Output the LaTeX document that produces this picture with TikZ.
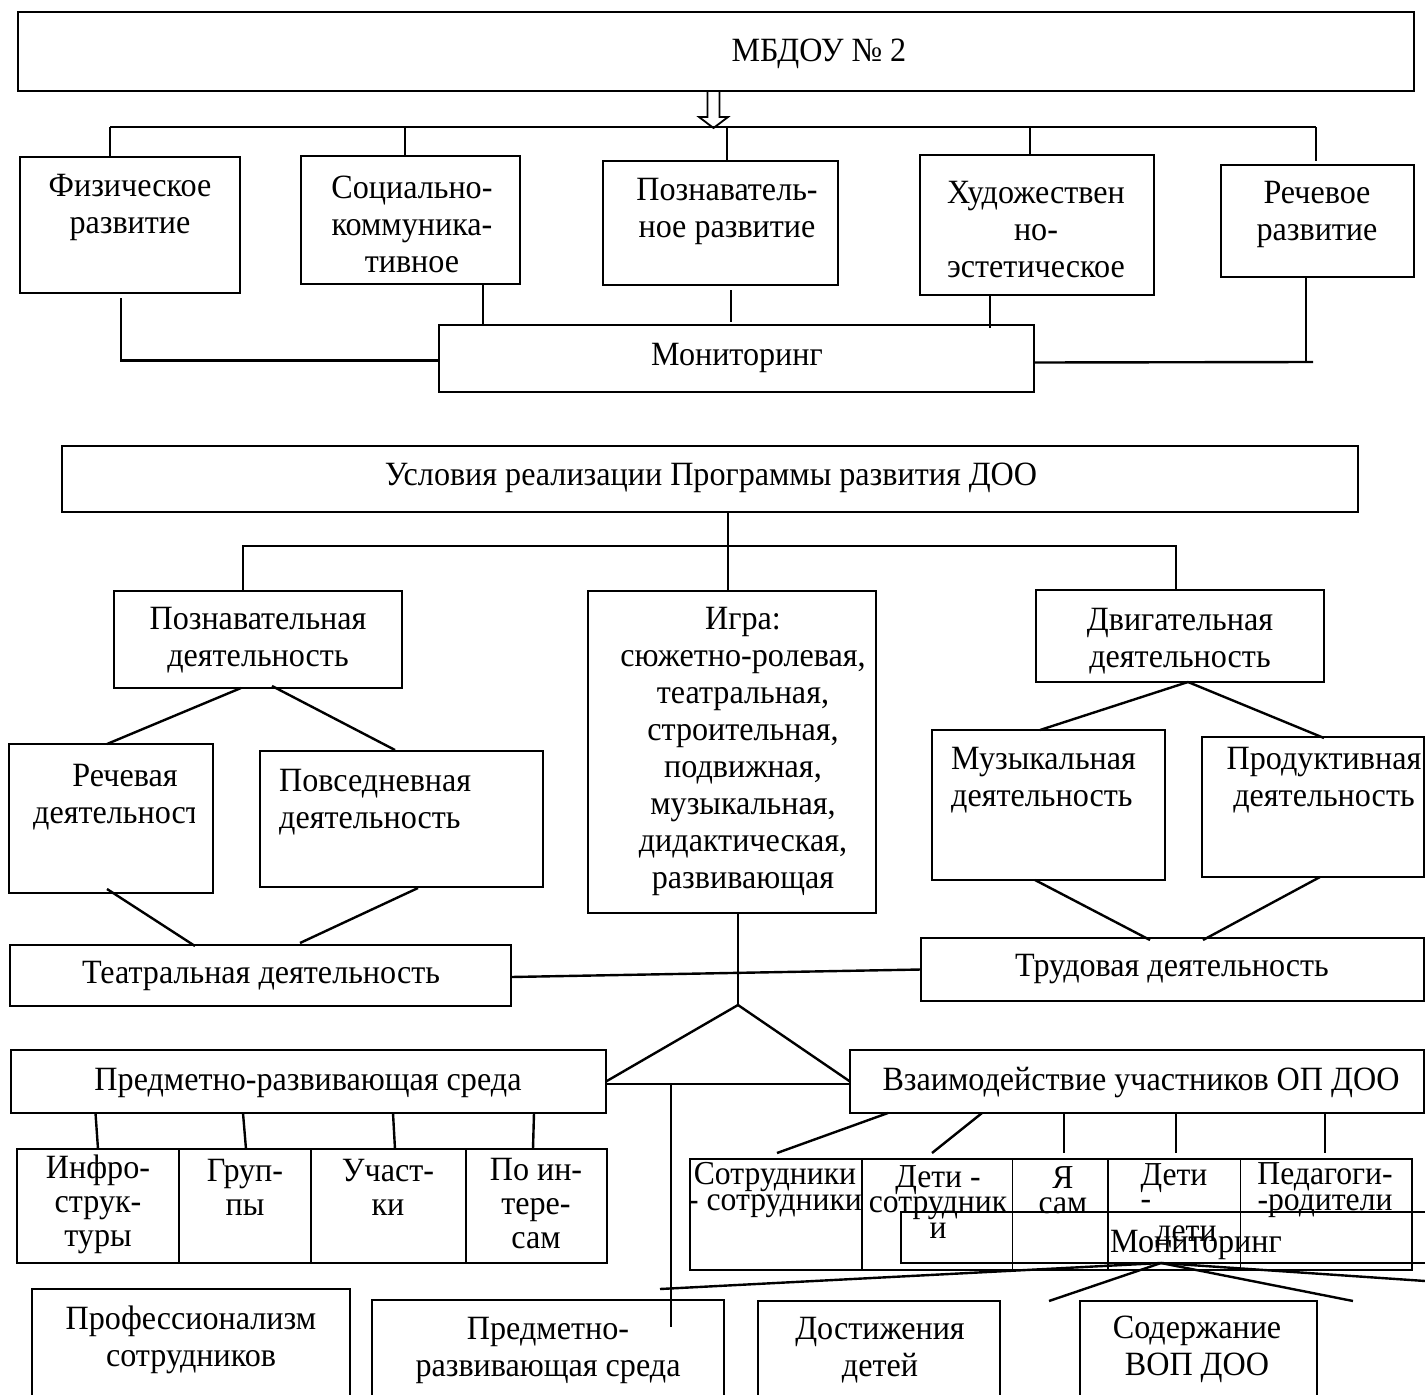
\documentclass[tikz,border=0pt]{standalone}
\usepackage{fontspec}
\setmainfont{Liberation Serif}[FakeStretch=0.945]
\usetikzlibrary{calc}
\newcommand\mybox[6][bx]{\node[#1, minimum width={#5-#3}, minimum height={#6-#4}] (#2) at ({(#3+#5)/2},{(#4+#6)/2}) {};}
\begin{document}
\begin{tikzpicture}[x=1pt,y=-1pt,
  bx/.style={draw, line width=2.4pt, inner sep=0pt, outer sep=0pt},
  tb/.style={draw, line width=1.1pt, inner sep=0pt, outer sep=0pt},
  ln/.style={line width=2.4pt},
  thinln/.style={line width=1.1pt},
  tx/.style={font=\fontsize{34}{37}\selectfont, inner sep=0pt, align=center},
  tsm/.style={font=\fontsize{34}{34}\selectfont, inner sep=0pt, align=center},
  tt/.style={font=\fontsize{33.5}{25.5}\selectfont, inner sep=0pt, align=center}]
\clip (0,0) rectangle (1425,1395);
\fill[white] (0,0) rectangle (1425,1395);
% ---------- top part ----------
\mybox{mbdou}{18}{12}{1414}{91}
\node[tx] (t-mbdou) at (819,54) {МБДОУ № 2};
\draw[line width=1.8pt, line join=miter] (707.5,91) -- (707.5,117) -- (699,117) -- (713.5,128) -- (728,117) -- (719.5,117) -- (719.5,91);
\coordinate (b1l) at (110,127);
\coordinate (b1r) at (1316,127);
\coordinate (b1s) at (405,127);
\coordinate (b1p) at (727,127);
\coordinate (b1h) at (1030,127);
\draw[ln] (b1l) -- (b1r);
\mybox{fiz}{20}{157}{240}{293}
\mybox{soc}{301}{156}{520}{284}
\mybox{pozn}{603}{161}{838}{285}
\mybox{hud}{920}{155}{1154}{295}
\mybox{rech}{1221}{165}{1414}{277}
\mybox{mon}{439}{325}{1034}{392}
\draw[ln] (b1l) -- (fiz.north -| b1l);
\draw[ln] (b1s) -- (soc.north -| b1s);
\draw[ln] (b1p) -- (pozn.north -| b1p);
\draw[ln] (b1h) -- (hud.north -| b1h);
\draw[ln] (b1r) -- ($(rech.north -| b1r)+(0,-4)$);
\node[tx] (t-fiz) at (130,207.5) {Физическое\\развитие};
\node[tx] (t-soc) at (412,224) {Социально-\\коммуника-\\тивное};
\node[tx] (t-pozn) at (727,211.5) {Познаватель-\\ное развитие};
\node[tx] (t-hud) at (1036,229.5) {Художествен\\но-\\эстетическое};
\node[tx] (t-rech) at (1317,214.5) {Речевое\\развитие};
\node[tx] (t-mon) at (737,358) {Мониторинг};
\coordinate (x120) at (121,0);
\coordinate (x483) at (483,0);
\coordinate (x731) at (731,0);
\coordinate (x990) at (990,0);
\coordinate (x1306) at (1306,0);
\coordinate (rc) at (1313,362);
\draw[ln] ($(fiz.south -| x120)+(0,5)$) |- ([yshift=-2pt]mon.west);
\draw[ln] (soc.south -| x483) -- (mon.north -| x483);
\draw[ln] ($(pozn.south -| x731)+(0,5)$) -- ($(mon.north -| x731)+(0,-3)$);
\draw[ln] (hud.south -| x990) -- ($(mon.north -| x990)+(0,3)$);
\draw[ln] (rech.south -| x1306) -- (rc -| x1306);
\draw[ln] ([yshift=-4pt]mon.east) -- (rc);
% ---------- second part ----------
\mybox{cond}{62}{446}{1358}{512}
\node[tx] (t-cond) at (711,478) {Условия реализации Программы развития ДОО};
\mybox{pd}{114}{591}{402}{688}
\mybox{igra}{588}{591}{876}{913}
\mybox{dv}{1036}{590}{1324}{682}
\node[tx] (t-pd) at (258,640) {Познавательная\\деятельность};
\node[tx] (t-igra) at (743,751) {Игра:\\сюжетно-ролевая,\\театральная,\\строительная,\\подвижная,\\музыкальная,\\дидактическая,\\развивающая};
\node[tx] (t-dv) at (1180,641) {Двигательная\\деятельность};
\coordinate (x728) at (728,0);
\coordinate (x243) at (243,0);
\coordinate (x1176) at (1176,0);
\draw[ln] (cond.south -| x728) -- (igra.north -| x728);
\draw[ln] (pd.north -| x243) -- ++(0,-45) -| (dv.north -| x1176);
\mybox{rd}{9}{744}{213}{893}
\mybox{pv}{260}{751}{543}{887}
\node[tx] (t-rd1) at (125,776) {Речевая};
\begin{scope}
\clip (9,744) rectangle (194,893);
\node[tx, anchor=west] (t-rd2) at (33,819) {деятельност};
\end{scope}
\node[tx, anchor=west, align=left] (t-pv) at (279,802.5) {Повседневная\\деятельность};
\draw[ln] ($(pd.south)+(-17,0)$) -- ($(rd.north)+(-4,0)$);
\draw[ln] ($(pd.south)+(14,-2)$) -- ($(pv.north)+(-6.5,-1)$);
\mybox{teatr}{10}{945}{511}{1006}
\node[tx] (t-teatr) at (261,976) {Театральная деятельность};
\draw[ln] ($(rd.south)+(-4,-4)$) -- ($(teatr.north)+(-65.5,1)$);
\draw[ln] ($(pv.south)+(16.5,1)$) -- ($(teatr.north)+(39.5,-2)$);
\mybox{mu}{932}{730}{1165}{880}
\mybox{pr}{1202}{737}{1424}{877}
\node[tx, anchor=west, align=left] (t-mu) at (951,780) {Музыкальная\\деятельность};
\node[tx] (t-pr) at (1324,780) {Продуктивная\\деятельность};
\draw[ln] ($(dv.south)+(8,0)$) -- ($(mu.north)+(-8.5,0)$);
\draw[ln] ($(dv.south)+(8,0)$) -- ($(pr.north)+(11,1)$);
\mybox{trud}{921}{938}{1424}{1001}
\node[tx] (t-trud) at (1172,969) {Трудовая деятельность};
\draw[ln] ($(mu.south)+(-13.5,0)$) -- ($(trud.north)+(-22.5,2)$);
\draw[ln] ($(pr.south)+(7,0)$) -- ($(trud.north)+(30.5,2)$);
\draw[ln] ([yshift=-1.5pt]teatr.east) -- (trud.west);
% ---------- triangle ----------
\mybox{psr}{11}{1050}{606}{1113}
\mybox{vz}{850}{1050}{1424}{1113}
\node[tx] (t-psr) at (308,1083) {Предметно-развивающая среда};
\node[tx] (t-vz) at (1141,1083) {Взаимодействие участников ОП ДОО};
\coordinate (apex) at (738,1005);
\draw[ln] (igra.south -| apex) -- (apex);
\draw[ln] (apex) -- (psr.east);
\draw[ln] (apex) -- (vz.west);
\draw[ln] ([yshift=-2.5pt]psr.east) -- ([yshift=-2.5pt]vz.west);
\coordinate (vtop) at (671,1084);
\coordinate (vend) at (671,1327);
\draw[ln] (vtop) -- (vend);
% ---------- table 1 ----------
\mybox[tb]{tab1}{17}{1149}{607}{1263}
\draw[thinln] (179,1149) -- (179,1263) (311,1149) -- (311,1263) (466,1149) -- (466,1263);
\coordinate (c1a) at (98,1149);
\coordinate (c1b) at (246,1149);
\coordinate (c1c) at (395,1149);
\coordinate (c1d) at (533,1149);
\draw[ln] ($(psr.south)+(-213,0)$) -- (c1a);
\draw[ln] ($(psr.south)+(-65.5,0)$) -- (c1b);
\draw[ln] ($(psr.south)+(84.5,0)$) -- (c1c);
\draw[ln] ($(psr.south)+(225.5,0)$) -- (c1d);
\node[tsm] (t-c1a) at (98,1204) {Инфро-\\струк-\\туры};
\node[tsm] (t-c1b) at (245,1187) {Груп-\\пы};
\node[tsm] (t-c1c) at (388,1187) {Участ-\\ки};
\node[tsm] (t-c1d) at (536,1204) {По ин-\\тере-\\сам};
% ---------- table 2 ----------
\mybox[tb]{tab2}{690}{1159}{1412}{1270}
\draw[thinln] (862,1159) -- (862,1270) (1012.5,1159) -- (1012.5,1270) (1108,1159) -- (1108,1270) (1240.5,1159) -- (1240.5,1270);
\coordinate (c2a) at (777,1153);
\coordinate (c2b) at (932,1153);
\coordinate (c2c) at (1064,1153);
\coordinate (c2d) at (1176,1153);
\coordinate (c2e) at (1325,1153);
\draw[ln] ($(vz.south)+(-249,0)$) -- (c2a);
\draw[ln] ($(vz.south)+(-155,0)$) -- (c2b);
\draw[ln] (vz.south -| c2c) -- (c2c);
\draw[ln] (vz.south -| c2d) -- (c2d);
\draw[ln] (vz.south -| c2e) -- (c2e);
\node[tt] (t-c2a) at (775,1190) {Сотрудники\\- сотрудники};
\node[tt] (t-c2b) at (938,1202) {Дети -\\сотрудник\\и};
\node[tt] (t-c2c) at (1063,1190) {Я\\сам};
\node[tt] (t-c2d1) at (1174,1178) {Дети};
\node[tt] (t-c2d2) at (1146,1205) {-};
\node[tt] (t-c2d3) at (1186,1237) {дети};
\node[tt] (t-c2e) at (1325,1190) {Педагоги-\\-родители};
\mybox{mon2}{901}{1212}{1440}{1263}
\node[tx] (t-mon2) at (1196,1245) {Мониторинг};
\coordinate (mapex) at (1161,1263);
\coordinate (f1) at (660,1289);
\coordinate (f2) at (1049,1301);
\coordinate (f3) at (1353,1301);
\coordinate (f4) at (1440,1282);
\draw[ln] (mapex) -- (f1);
\draw[ln] (mapex) -- (f2);
\draw[ln] (mapex) -- (f3);
\draw[ln] (mapex) -- (f4);
% ---------- bottom row ----------
\mybox{prof}{32}{1289}{350}{1420}
\mybox{pr2}{372}{1300}{724}{1420}
\mybox{dost}{758}{1301}{1000}{1420}
\mybox{sod}{1080}{1301}{1317}{1420}
\node[tx] (t-prof) at (191,1339.5) {Профессионализм\\сотрудников};
\node[tx] (t-pr2) at (548,1350.5) {Предметно-\\развивающая среда};
\node[tx] (t-dost) at (880,1350) {Достижения\\детей};
\node[tx] (t-sod) at (1197,1349.5) {Содержание\\ВОП ДОО};
\end{tikzpicture}
\end{document}
